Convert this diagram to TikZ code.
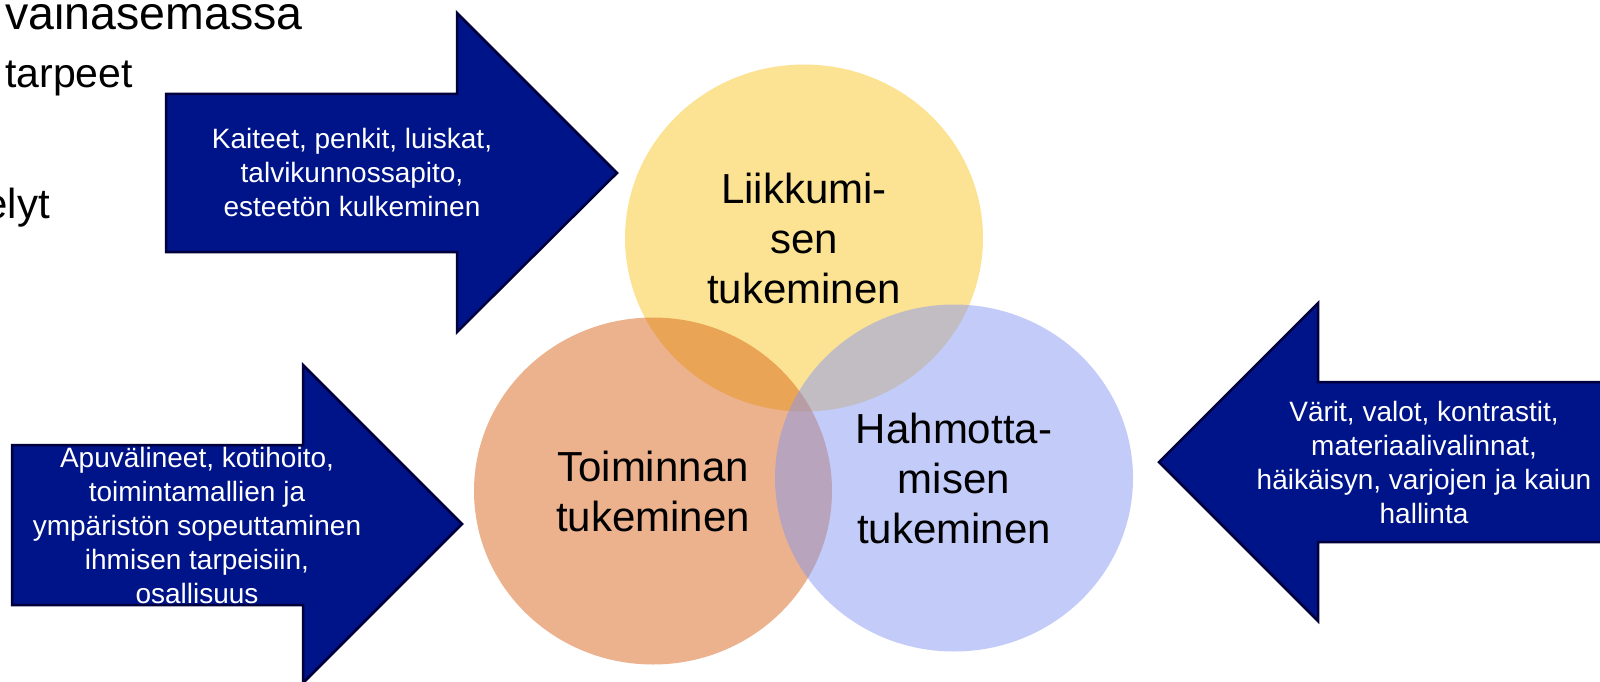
\documentclass[tikz,border=0pt]{standalone}
\usepackage{fontspec}
\setmainfont{Liberation Sans}
\usetikzlibrary{shapes.geometric}

\definecolor{navyfill}{RGB}{0,20,137}
\definecolor{navyline}{RGB}{0,0,60}
\definecolor{vennyellow}{RGB}{250,200,40}
\definecolor{vennorange}{RGB}{216,101,27}
\definecolor{vennblue}{RGB}{135,151,241}

\tikzset{
    blockarrow/.style={fill=navyfill, draw=navyline, line width=2.5pt, line join=miter},
    arrowtext/.style={text=white, align=center, inner sep=0pt, font=\fontsize{28}{34}\selectfont},
    venn/.style={ellipse, minimum width=358pt, minimum height=347pt, inner sep=0pt, fill opacity=0.5, text opacity=1, align=center, font=\fontsize{42}{50}\selectfont},
    slidetext/.style={anchor=base west, inner sep=0pt, font=\fontsize{42}{50}\selectfont}
    }

\begin{document}
\begin{tikzpicture}[x=1pt, y=-1pt]
                \useasboundingbox (0,0) rectangle (1600,682);
                % Slide text behind
                \node(rivi1)[slidetext, font=\fontsize{46.5}{55}\selectfont] at (5,30) {vainasemassa};
                \node(rivi2)[slidetext, font=\fontsize{41}{50}\selectfont] at (5,88) {tarpeet};
                \node(rivi3)[slidetext, anchor=base east] at (50,218) {elyt};
                % The Arrows
                \draw[blockarrow] (166,94) -- (457,94) -- (457,13) -- (617,173) -- (457,332) -- (457,252) -- (166,252) -- cycle;
                \draw[blockarrow] (12,445) -- (303,445) -- (303,365) -- (462,524) -- (303,683) -- (303,605) -- (12,605) -- cycle;
                \draw[blockarrow] (1610,382) -- (1318,382) -- (1318,303) -- (1159,462) -- (1318,621) -- (1318,542) -- (1610,542) -- cycle;
                \node(kulku)[arrowtext] at (352,172) {Kaiteet, penkit, luiskat,\\talvikunnossapito,\\esteetön kulkeminen};
                \node(apu)[arrowtext] at (197,525) {Apuvälineet, kotihoito,\\toimintamallien ja\\ympäristön sopeuttaminen\\ihmisen tarpeisiin,\\osallisuus};
                \node(varit)[arrowtext] at (1424,462) {Värit, valot, kontrastit,\\materiaalivalinnat,\\häikäisyn, varjojen ja kaiun\\hallinta};
                % The Venn
                \node(liikkuminen)[venn, fill=vennyellow] at (804,238) {Liikkumi-\\sen\\tukeminen};
                \node(toiminta)[venn, fill=vennorange] at (653,491) {Toiminnan\\tukeminen};
                \node(hahmotus)[venn, fill=vennblue] at (954,478) {Hahmotta-\\misen\\tukeminen};
            \end{tikzpicture}
\end{document}
